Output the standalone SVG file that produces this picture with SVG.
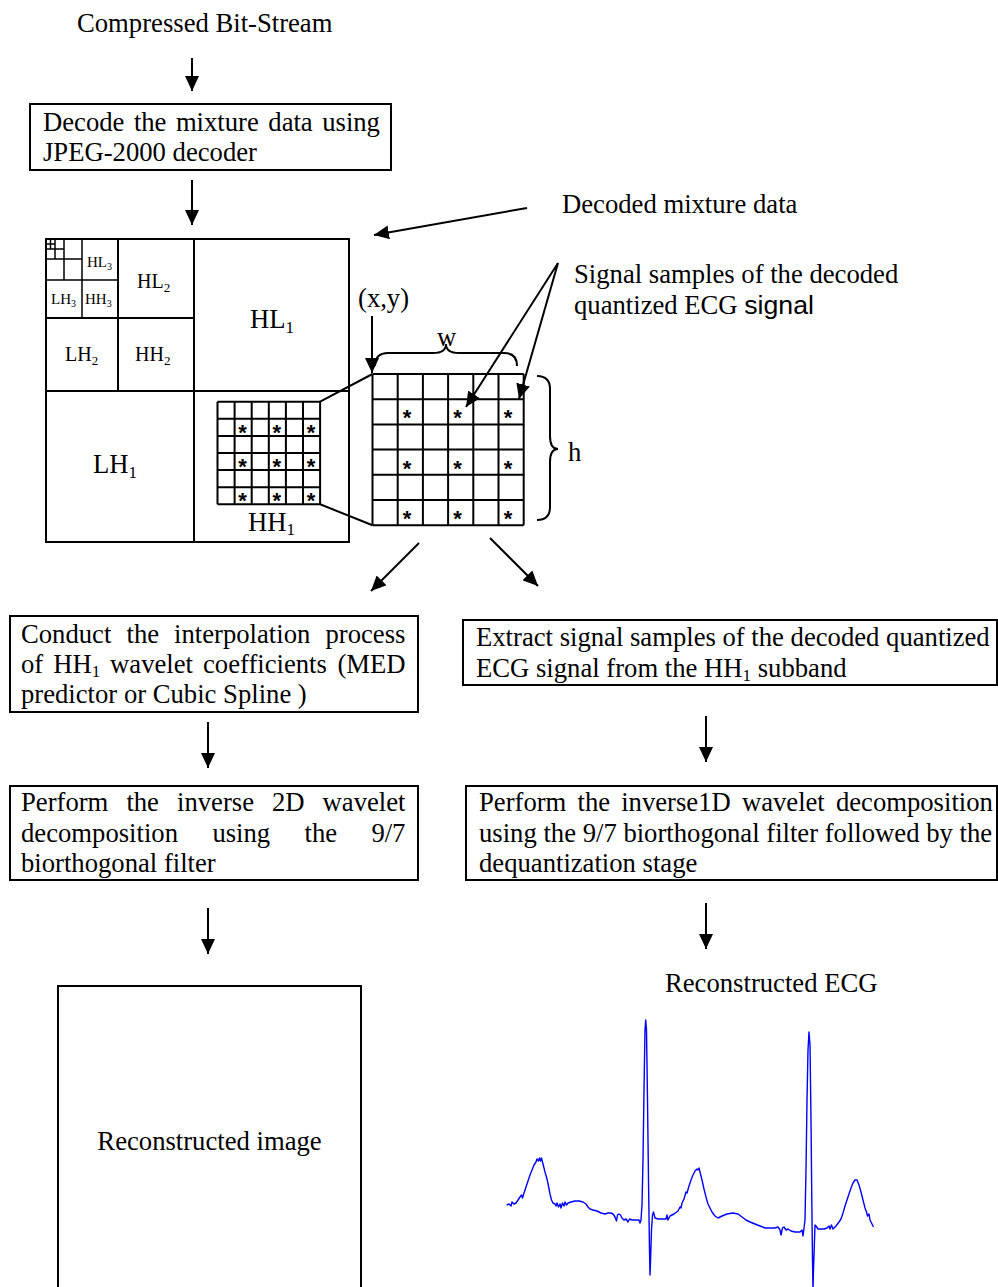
<svg xmlns="http://www.w3.org/2000/svg" width="998" height="1287" viewBox="0 0 998 1287">
<style>
  text { font-family: "Liberation Serif", "Times New Roman", serif; font-size: 26.67px; fill: #000; }
  .box { fill: #fff; stroke: #000; stroke-width: 2; }
  .ln { stroke: #000; stroke-width: 2; fill: none; }
  .thin { stroke: #000; stroke-width: 1.5; fill: none; }
  .arr { stroke: #000; stroke-width: 2; fill: none; marker-end: url(#ah); }
  .star { font-family: "Liberation Sans", Arial, sans-serif; font-size: 22px; font-weight: bold; text-anchor: middle; }
  .sans { font-family: "Liberation Sans", Arial, sans-serif; }
  .sub { font-size: 17px; }
  .l2 { font-size: 20px; }
  .l2 .sub { font-size: 13px; }
  .l3 { font-size: 15px; }
  .l3 .sub { font-size: 10px; }
  .ecg { fill: none; stroke: #0000ff; stroke-width: 1.4; stroke-linejoin: round; }
</style>
<defs>
  <marker id="ah" viewBox="0 0 15 14" refX="15" refY="7" markerWidth="15" markerHeight="14" markerUnits="userSpaceOnUse" orient="auto">
    <path d="M0,0 L15,7 L0,14 Z" fill="#000"/>
  </marker>
</defs>
<rect width="998" height="1287" fill="#fff"/>

<!-- input label -->
<g id="bitstream">
  <text x="77" y="32">Compressed Bit-Stream</text>
</g>

<!-- JPEG-2000 decoding step -->
<g id="decode">
  <rect class="box" x="30" y="104" width="361" height="66"/>
  <text y="131"><tspan x="43">Decode</tspan><tspan x="133.9">the</tspan><tspan x="175.9">mixture</tspan><tspan x="268.3">data</tspan><tspan x="322.2">using</tspan></text>
  <text x="43" y="161">JPEG-2000 decoder</text>
</g>

<g id="mixture-label">
  <text x="562" y="213">Decoded mixture data</text>
</g>

<!-- three-level wavelet decomposition of the mixture -->
<g id="subbands">
  <rect class="ln" x="46" y="239" width="303" height="303" fill="#fff"/>
  <path class="ln" d="M194,239 V542 M46,391 H349 M118,239 V391 M46,318 H194"/>
  <path class="thin" d="M82,239 V318 M46,280 H118 M64,239 V280 M46,259 H82 M55,239 V259 M46,249 H64 M50.5,239 V249 M46,244 H55"/>
  <text class="l3" x="87" y="267">HL<tspan class="sub" dy="3">3</tspan></text>
  <text class="l3" x="51" y="304">LH<tspan class="sub" dy="3">3</tspan></text>
  <text class="l3" x="85" y="304">HH<tspan class="sub" dy="3">3</tspan></text>
  <text class="l2" x="137" y="288">HL<tspan class="sub" dy="4">2</tspan></text>
  <text class="l2" x="65" y="361">LH<tspan class="sub" dy="4">2</tspan></text>
  <text class="l2" x="135" y="361">HH<tspan class="sub" dy="4">2</tspan></text>
  <text x="250" y="328">HL<tspan class="sub" dy="5">1</tspan></text>
  <text x="93" y="473">LH<tspan class="sub" dy="5">1</tspan></text>
  <text x="248" y="531">HH<tspan class="sub" dy="4">1</tspan></text>
</g>

<!-- sample block inside HH1 -->
<g id="hh1-block">
  <path class="ln" d="M217.5,401.7 H320.1 M217.5,418.8 H320.1 M217.5,435.9 H320.1 M217.5,453 H320.1 M217.5,470.1 H320.1 M217.5,487.2 H320.1 M217.5,504.3 H320.1 M217.5,401.7 V504.3 M234.6,401.7 V504.3 M251.7,401.7 V504.3 M268.8,401.7 V504.3 M285.9,401.7 V504.3 M303,401.7 V504.3 M320.1,401.7 V504.3"/>
  <text class="star" x="242.6" y="440">*</text><text class="star" x="276.8" y="440">*</text><text class="star" x="311" y="440">*</text>
  <text class="star" x="242.6" y="474.2">*</text><text class="star" x="276.8" y="474.2">*</text><text class="star" x="311" y="474.2">*</text>
  <text class="star" x="242.6" y="508.2">*</text><text class="star" x="276.8" y="508.2">*</text><text class="star" x="311" y="508.2">*</text>
</g>

<!-- enlarged w x h block -->
<g id="block-zoom">
  <rect x="372.5" y="374" width="151.2" height="151.2" fill="#fff"/>
  <path class="ln" d="M372.5,374 H523.7 M372.5,399.2 H523.7 M372.5,424.4 H523.7 M372.5,449.6 H523.7 M372.5,474.8 H523.7 M372.5,500 H523.7 M372.5,525.2 H523.7 M372.5,374 V525.2 M397.7,374 V525.2 M422.9,374 V525.2 M448.1,374 V525.2 M473.3,374 V525.2 M498.5,374 V525.2 M523.7,374 V525.2"/>
  <text class="star" x="407" y="425.2">*</text><text class="star" x="457.5" y="425.2">*</text><text class="star" x="508" y="425.2">*</text>
  <text class="star" x="407" y="475.7">*</text><text class="star" x="457.5" y="475.7">*</text><text class="star" x="508" y="475.7">*</text>
  <text class="star" x="407" y="526">*</text><text class="star" x="457.5" y="526">*</text><text class="star" x="508" y="526">*</text>
  <text x="358" y="307">(x,y)</text>
  <text x="437" y="346">w</text>
  <text x="568" y="461">h</text>
  <path class="ln" d="M375,366 Q375,353 388,353 L433,353 Q446,353 446,344 Q446,353 459,353 L504,353 Q517,353 517,366"/>
  <path class="ln" d="M537,376 Q550,376 550,389 L550,436 Q550,449 558,449 Q550,449 550,462 L550,507 Q550,520 537,520"/>
</g>

<g id="samples-label">
  <text x="574" y="283">Signal samples of the decoded</text>
  <text x="574" y="314">quantized ECG <tspan class="sans">signal</tspan></text>
</g>

<!-- image branch -->
<g id="interpolate">
  <rect class="box" x="10" y="616" width="408" height="96"/>
  <text y="643"><tspan x="21">Conduct</tspan><tspan x="126.5">the</tspan><tspan x="174.1">interpolation</tspan><tspan x="325.5">process</tspan></text>
  <text y="673"><tspan x="21">of</tspan><tspan x="53.2">HH</tspan><tspan class="sub" dy="4">1</tspan><tspan x="110.1" dy="-4">wavelet</tspan><tspan x="203">coefficients</tspan><tspan x="337.4">(MED</tspan></text>
  <text x="21" y="703">predictor or Cubic Spline )</text>
</g>

<g id="inverse-2d">
  <rect class="box" x="10" y="786" width="408" height="94"/>
  <text y="811"><tspan x="21">Perform</tspan><tspan x="126.4">the</tspan><tspan x="177">inverse</tspan><tspan x="272">2D</tspan><tspan x="322.6">wavelet</tspan></text>
  <text y="842"><tspan x="21">decomposition</tspan><tspan x="212.4">using</tspan><tspan x="304.5">the</tspan><tspan x="371.4">9/7</tspan></text>
  <text x="21" y="872">biorthogonal filter</text>
</g>

<g id="image-out">
  <rect class="box" x="58" y="986" width="303" height="310"/>
  <text x="209.5" y="1150" text-anchor="middle">Reconstructed image</text>
</g>

<!-- ECG branch -->
<g id="extract">
  <rect class="box" x="463" y="620" width="534" height="65"/>
  <text x="476" y="646">Extract signal samples of the decoded quantized</text>
  <text x="476" y="677">ECG signal from the HH<tspan class="sub" dy="4">1</tspan><tspan dy="-4"> subband</tspan></text>
</g>

<g id="inverse-1d">
  <rect class="box" x="466" y="786" width="531" height="94"/>
  <text y="811"><tspan x="479">Perform</tspan><tspan x="577.5">the</tspan><tspan x="621.2">inverse1D</tspan><tspan x="741.9">wavelet</tspan><tspan x="835.9">decomposition</tspan></text>
  <text x="479" y="842">using the 9/7 biorthogonal filter followed by the</text>
  <text x="479" y="872">dequantization stage</text>
</g>

<g id="ecg-out">
  <text x="665" y="992">Reconstructed ECG</text>
  <polyline class="ecg" points="506.7,1205 509,1204 511,1206 512,1202 514,1204 516,1203 518,1200 520,1197 521.5,1195 522.5,1198 524,1193 527,1184 530,1175 532,1170 534,1165 536,1162 537,1159 538.5,1161 539.5,1158 540.5,1161 541.5,1158 543,1164 545,1172 547,1179 548.5,1186 550,1194 551.5,1200 553,1203 555,1204 556,1206 557,1203 558.5,1207 560,1204 561,1208 562.5,1203 564,1206 565,1202 566.5,1205 568,1203 571,1202 575,1201 579,1201 583,1202 586,1204 588,1207 590,1209 593,1210 597,1211 601,1213 605,1214 608,1213 611,1213 613,1214 615,1217 616.5,1221 617.5,1215 619,1214 620.5,1215 622,1218 624,1220 626,1219 628,1222 629.5,1219 632,1220 636,1220 639,1220 640,1223 641,1220 642,1205 643,1160 644,1090 645,1030 645.7,1020 646.5,1030 647.5,1100 648.5,1180 649.5,1250 650,1275 650.5,1262 651.5,1230 652.5,1215 653.5,1212 655,1218 658,1219 662,1219 666,1219 667,1215 668,1220 670,1216 674,1214 678,1211 680,1207 681,1208 682,1203 684,1199 686,1192 687,1193 689,1186 691,1180 693,1175 695,1171 697,1169 698,1170 699,1168 700,1172 702,1180 704,1189 706,1197 708,1204 710,1208 712,1212 715,1216 718,1218 722,1216 727,1214 733,1213 738,1214 742,1217 746,1220 750,1222 755,1224 760,1226 765,1228 770,1228 775,1228 778,1227 780,1230 781,1235 782.5,1228 784,1227 786,1230 788,1229 791,1231 795,1232 800,1232 802,1230 803,1236 804,1228 805,1220 806,1170 807,1100 808,1050 809,1032 810,1045 811,1120 811.8,1200 812.5,1260 813,1290 813.5,1270 814.5,1240 815,1225 816,1226 818,1229 821,1229 824,1229 827,1228 829,1226 830,1229 831.5,1225 833,1229 836,1226 839,1222 841,1219 843,1213 845,1206 847,1200 849,1194 851,1188 853,1183 855,1180 857,1180 859,1185 861,1192 863,1200 865,1208 866.5,1212 867.5,1216 869,1214 870,1220 872,1224 873.5,1227"/>
</g>

<!-- connectors -->
<g id="connectors">
  <line class="arr" x1="192" y1="58" x2="192" y2="91"/>
  <line class="arr" x1="192" y1="180" x2="192" y2="225"/>
  <line class="arr" x1="527" y1="208" x2="374" y2="235"/>
  <line class="arr" x1="372" y1="316" x2="372" y2="373"/>
  <line class="arr" x1="558" y1="263" x2="466" y2="407"/>
  <line class="arr" x1="558" y1="263" x2="519" y2="399"/>
  <line class="ln" x1="320.1" y1="401.7" x2="372.5" y2="374"/>
  <line class="ln" x1="320.1" y1="504.3" x2="372.5" y2="525.2"/>
  <line class="arr" x1="419" y1="543" x2="371" y2="591"/>
  <line class="arr" x1="490" y1="538" x2="538" y2="586"/>
  <line class="arr" x1="208" y1="722" x2="208" y2="768"/>
  <line class="arr" x1="706" y1="716" x2="706" y2="762"/>
  <line class="arr" x1="208" y1="908" x2="208" y2="954"/>
  <line class="arr" x1="706" y1="903" x2="706" y2="949"/>
</g>
</svg>
